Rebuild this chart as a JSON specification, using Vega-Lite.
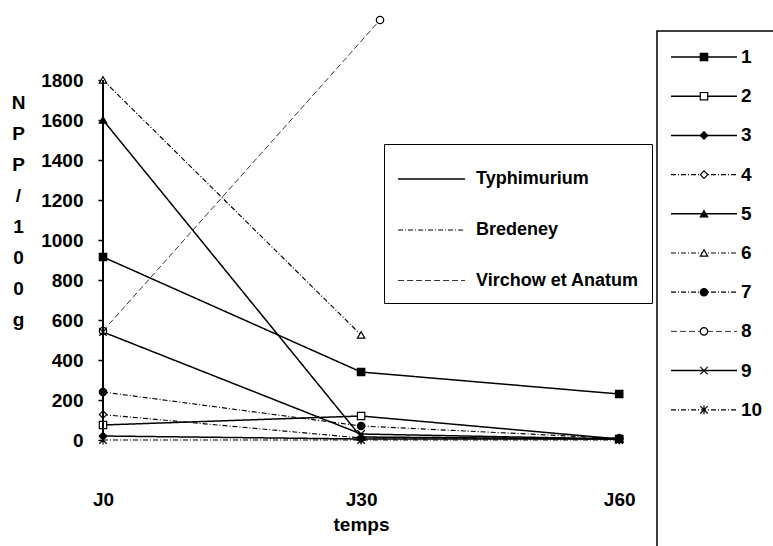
{
  "$schema": "https://vega.github.io/schema/vega-lite/v6.json",
  "autosize": {"type": "pad"},
  "padding": {"left": 11, "top": 13, "right": 0, "bottom": 0},
  "background": "white",
  "spacing": 12,
  "bounds": "flush",
  "config": {
    "font": "Liberation Sans",
    "view": {"stroke": null},
    "text": {"font": "Liberation Sans"}
  },
  "datasets": {
    "series": [
      {"serie": "1", "serotype": "Typhimurium", "plein": "oui", "jour": 0, "npp": 915},
      {"serie": "1", "serotype": "Typhimurium", "plein": "oui", "jour": 30, "npp": 340},
      {"serie": "1", "serotype": "Typhimurium", "plein": "oui", "jour": 60, "npp": 230},
      {"serie": "2", "serotype": "Typhimurium", "plein": "non", "jour": 0, "npp": 75},
      {"serie": "2", "serotype": "Typhimurium", "plein": "non", "jour": 30, "npp": 120},
      {"serie": "2", "serotype": "Typhimurium", "plein": "non", "jour": 60, "npp": 5},
      {"serie": "3", "serotype": "Typhimurium", "plein": "oui", "jour": 0, "npp": 20},
      {"serie": "3", "serotype": "Typhimurium", "plein": "oui", "jour": 30, "npp": 5},
      {"serie": "3", "serotype": "Typhimurium", "plein": "oui", "jour": 60, "npp": 5},
      {"serie": "4", "serotype": "Bredeney", "plein": "non", "jour": 0, "npp": 127},
      {"serie": "4", "serotype": "Bredeney", "plein": "non", "jour": 30, "npp": 10},
      {"serie": "4", "serotype": "Bredeney", "plein": "non", "jour": 60, "npp": 10},
      {"serie": "5", "serotype": "Typhimurium", "plein": "oui", "jour": 0, "npp": 1600},
      {"serie": "5", "serotype": "Typhimurium", "plein": "oui", "jour": 30, "npp": 15},
      {"serie": "5", "serotype": "Typhimurium", "plein": "oui", "jour": 60, "npp": 5},
      {"serie": "6", "serotype": "Bredeney", "plein": "non", "jour": 0, "npp": 1800},
      {"serie": "6", "serotype": "Bredeney", "plein": "non", "jour": 30, "npp": 525},
      {"serie": "7", "serotype": "Bredeney", "plein": "oui", "jour": 0, "npp": 240},
      {"serie": "7", "serotype": "Bredeney", "plein": "oui", "jour": 30, "npp": 70},
      {"serie": "7", "serotype": "Bredeney", "plein": "oui", "jour": 60, "npp": 8},
      {"serie": "8", "serotype": "Virchow et Anatum", "plein": "non", "jour": 0, "npp": 545},
      {"serie": "8", "serotype": "Virchow et Anatum", "plein": "non", "jour": 32.2, "npp": 2100},
      {"serie": "9", "serotype": "Typhimurium", "plein": "non", "jour": 0, "npp": 540},
      {"serie": "9", "serotype": "Typhimurium", "plein": "non", "jour": 30, "npp": 30},
      {"serie": "9", "serotype": "Typhimurium", "plein": "non", "jour": 60, "npp": 5},
      {"serie": "10", "serotype": "Bredeney", "plein": "non", "jour": 0, "npp": 0},
      {"serie": "10", "serotype": "Bredeney", "plein": "non", "jour": 30, "npp": 0},
      {"serie": "10", "serotype": "Bredeney", "plein": "non", "jour": 60, "npp": 0}
    ],
    "legende": [
      {"serie": "1", "n": 1, "serotype": "Typhimurium", "plein": "oui"},
      {"serie": "2", "n": 2, "serotype": "Typhimurium", "plein": "non"},
      {"serie": "3", "n": 3, "serotype": "Typhimurium", "plein": "oui"},
      {"serie": "4", "n": 4, "serotype": "Bredeney", "plein": "non"},
      {"serie": "5", "n": 5, "serotype": "Typhimurium", "plein": "oui"},
      {"serie": "6", "n": 6, "serotype": "Bredeney", "plein": "non"},
      {"serie": "7", "n": 7, "serotype": "Bredeney", "plein": "oui"},
      {"serie": "8", "n": 8, "serotype": "Virchow et Anatum", "plein": "non"},
      {"serie": "9", "n": 9, "serotype": "Typhimurium", "plein": "non"},
      {"serie": "10", "n": 10, "serotype": "Bredeney", "plein": "non"}
    ]
  },
  "resolve": {
    "scale": {"x": "independent", "y": "independent", "shape": "independent", "fill": "independent", "strokeDash": "independent", "strokeWidth": "independent"},
    "legend": {"strokeDash": "independent"}
  },
  "hconcat": [
    {
      "width": 542,
      "height": 409,
      "data": {"name": "series"},
      "encoding": {
        "x": {
          "field": "jour", "type": "quantitative",
          "scale": {"domain": [0, 63], "nice": false, "zero": false},
          "axis": {
            "values": [0, 30, 60], "labelExpr": "'J' + datum.value",
            "domain": false, "ticks": false, "grid": false, "labelFlush": false,
            "labelFontSize": 19, "labelFontWeight": "bold", "labelColor": "black", "labelPadding": 50,
            "title": "temps", "titleFontSize": 19, "titleFontWeight": "bold", "titleColor": "black",
            "titleX": 258, "titleY": 84, "titleBaseline": "middle", "titleAlign": "center", "titleAnchor": null
          }
        },
        "y": {
          "field": "npp", "type": "quantitative",
          "scale": {"domain": [0, 2045], "nice": false},
          "axis": {
            "values": [0, 200, 400, 600, 800, 1000, 1200, 1400, 1600, 1800],
            "format": "d",
            "domain": false, "grid": false, "labelFlush": false,
            "tickSize": 5, "tickColor": "black", "tickWidth": 1.5,
            "labelFontSize": 19, "labelFontWeight": "bold", "labelColor": "black", "labelPadding": 15,
            "title": ["N", "P", "P", " ", "/", " ", "1", "0", "0", " ", "g"],
            "titleAngle": 0, "titleAlign": "center", "titleBaseline": "top",
            "titleX": -85, "titleY": 62, "titleLineHeight": 31,
            "titleFontSize": 19, "titleFontWeight": "bold", "titleColor": "black", "titleAnchor": null
          }
        }
      },
      "layer": [
        {
          "mark": {"type": "line", "stroke": "black"},
          "encoding": {
            "detail": {"field": "serie", "type": "nominal"},
            "order": {"field": "jour", "type": "quantitative"},
            "strokeWidth": {
              "field": "serotype", "type": "nominal",
              "scale": {"domain": ["Typhimurium", "Bredeney", "Virchow et Anatum"], "range": [1.5, 0.8, 1.3]},
              "legend": null
            },
            "strokeDash": {
              "field": "serotype", "type": "nominal",
              "scale": {"domain": ["Typhimurium", "Bredeney", "Virchow et Anatum"], "range": [[1, 0], [5, 2, 1, 2], [6, 3]]},
              "legend": {
                "title": null, "orient": "none", "legendX": 281, "legendY": 113,
                "direction": "vertical", "strokeColor": "black", "fillColor": "white", "padding": 13,
                "symbolType": "M-1,0H2.2", "symbolSize": 1753, "symbolStrokeColor": "black", "symbolFillColor": "transparent", "symbolStrokeWidth": 1.2,
                "labelFontSize": 18, "labelFontWeight": "bold", "labelColor": "black", "labelOffset": 35,
                "rowPadding": 20, "labelLimit": 300
              }
            }
          }
        },
        {
          "mark": {"type": "point", "filled": true, "stroke": "black", "strokeWidth": 1.2, "size": 55, "opacity": 1},
          "encoding": {
            "shape": {
              "field": "serie", "type": "nominal",
              "scale": {
                "domain": ["1", "2", "3", "4", "5", "6", "7", "8", "9", "10"],
                "range": ["square", "square", "diamond", "diamond", "triangle-up", "triangle-up", "circle", "circle", "M-1,-1L1,1M-1,1L1,-1", "M-1,-1L1,1M-1,1L1,-1M0,-1.2L0,1.2"]
              },
              "legend": null
            },
            "fill": {
              "field": "plein", "type": "nominal",
              "scale": {"domain": ["oui", "non"], "range": ["black", "white"]},
              "legend": null
            }
          }
        },
        {
          "mark": {"type": "rule", "stroke": "black", "strokeWidth": 1.5},
          "encoding": {
            "x": {"datum": 0, "type": "quantitative"},
            "y": {"datum": 0, "type": "quantitative"},
            "y2": {"datum": 1800}
          }
        }
      ]
    },
    {
      "width": 130,
      "height": 530,
      "view": {"stroke": "black", "strokeWidth": 1.5},
      "data": {"name": "legende"},
      "encoding": {
        "y": {
          "field": "n", "type": "quantitative",
          "scale": {"domain": [0.337, 13.857], "reverse": true, "nice": false, "zero": false},
          "axis": null
        }
      },
      "layer": [
        {
          "mark": {"type": "rule", "stroke": "black"},
          "encoding": {
            "x": {"datum": 14, "type": "quantitative", "scale": {"domain": [0, 130], "nice": false, "zero": false}, "axis": null},
            "x2": {"datum": 80},
            "strokeWidth": {
              "field": "serotype", "type": "nominal",
              "scale": {"domain": ["Typhimurium", "Bredeney", "Virchow et Anatum"], "range": [1.5, 0.8, 1.3]},
              "legend": null
            },
            "strokeDash": {
              "field": "serotype", "type": "nominal",
              "scale": {"domain": ["Typhimurium", "Bredeney", "Virchow et Anatum"], "range": [[1, 0], [5, 2, 1, 2], [6, 3]]},
              "legend": null
            }
          }
        },
        {
          "mark": {"type": "point", "filled": true, "stroke": "black", "strokeWidth": 1.2, "size": 55, "opacity": 1},
          "encoding": {
            "x": {"datum": 47, "type": "quantitative"},
            "shape": {
              "field": "serie", "type": "nominal",
              "scale": {
                "domain": ["1", "2", "3", "4", "5", "6", "7", "8", "9", "10"],
                "range": ["square", "square", "diamond", "diamond", "triangle-up", "triangle-up", "circle", "circle", "M-1,-1L1,1M-1,1L1,-1", "M-1,-1L1,1M-1,1L1,-1M0,-1.2L0,1.2"]
              },
              "legend": null
            },
            "fill": {
              "field": "plein", "type": "nominal",
              "scale": {"domain": ["oui", "non"], "range": ["black", "white"]},
              "legend": null
            }
          }
        },
        {
          "mark": {"type": "text", "align": "left", "baseline": "middle", "fontSize": 19, "fontWeight": "bold", "color": "black"},
          "encoding": {
            "x": {"datum": 84, "type": "quantitative"},
            "text": {"field": "serie", "type": "nominal"}
          }
        }
      ]
    }
  ]
}
